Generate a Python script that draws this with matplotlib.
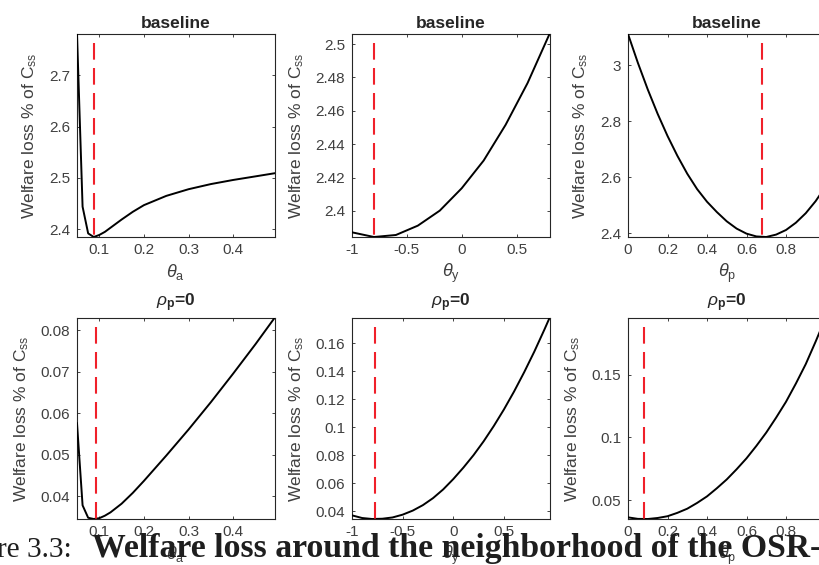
import numpy as np
import matplotlib
matplotlib.use("Agg")
import matplotlib.pyplot as plt

plt.rcParams.update({
    "font.family": ["Liberation Sans", "DejaVu Sans"],
    "mathtext.fontset": "custom",
    "mathtext.rm": "Liberation Sans",
    "mathtext.it": "Liberation Sans:italic",
    "mathtext.bf": "Liberation Sans:bold",
    "axes.unicode_minus": False,
})

# ---- welfare loss along each rule coefficient ----
theta_a = [0.05, 0.0625, 0.075, 0.0875, 0.1, 0.1125, 0.125, 0.15, 0.175,
           0.2, 0.25, 0.3, 0.35, 0.4, 0.45, 0.4925]
loss_a_base = [2.780, 2.444, 2.392, 2.385, 2.389, 2.395, 2.403, 2.419, 2.434,
               2.447, 2.465, 2.478, 2.488, 2.496, 2.503, 2.509]
loss_a_rho0 = [0.0576, 0.0378, 0.0348, 0.0345, 0.0347, 0.0353, 0.0361, 0.0382, 0.0408,
               0.0437, 0.0498, 0.0561, 0.0627, 0.0696, 0.0767, 0.0830]

theta_y = [-1.0, -0.8, -0.6, -0.4, -0.2, 0.0, 0.2, 0.4, 0.6, 0.8]
loss_y_base = [2.3872, 2.3844, 2.3856, 2.3912, 2.4002, 2.4136, 2.4302, 2.4516, 2.4766, 2.5060]

theta_y_rho0 = [-1.0, -0.9, -0.8, -0.7, -0.6, -0.5, -0.4, -0.3, -0.2, -0.1, 0.0,
                0.1, 0.2, 0.3, 0.4, 0.5, 0.6, 0.7, 0.8, 0.9, 0.95]
loss_y_rho0 = [0.0371, 0.0352, 0.0345, 0.0347, 0.0356, 0.0376, 0.0405, 0.0444, 0.0494,
               0.0556, 0.0630, 0.0712, 0.0801, 0.0900, 0.1009, 0.1127, 0.1255, 0.1393,
               0.1540, 0.1698, 0.1780]

theta_p = [0.0, 0.05, 0.1, 0.15, 0.2, 0.25, 0.3, 0.35, 0.4, 0.45, 0.5,
           0.55, 0.6, 0.65, 0.7, 0.75, 0.8, 0.85, 0.9, 0.95, 1.0]
loss_p_base = [3.111, 3.008, 2.913, 2.826, 2.747, 2.676, 2.612, 2.557, 2.512, 2.475, 2.442,
               2.416, 2.398, 2.388, 2.386, 2.3946, 2.411, 2.437, 2.471, 2.514, 2.566]
loss_p_rho0 = [0.0363, 0.0351, 0.0350, 0.0358, 0.0372, 0.0399, 0.0432, 0.0478, 0.0530, 0.0595,
               0.0665, 0.0746, 0.0833, 0.0932, 0.1038, 0.1157, 0.1283, 0.1428, 0.1583,
               0.1762, 0.1950]

# optimal coefficients (OSR) marked by the dashed lines
opt_base = [0.0875, -0.8, 0.68]
opt_rho0 = [0.0925, -0.77, 0.082]

# tick positions
xt_a = [0.1, 0.2, 0.3, 0.4]
xt_y = [-1, -0.5, 0, 0.5]
xt_p = [0, 0.2, 0.4, 0.6, 0.8, 1.0]
yt_a_base = [2.4, 2.5, 2.6, 2.7]
yt_y_base = [2.4, 2.42, 2.44, 2.46, 2.48, 2.5]
yt_p_base = [2.4, 2.6, 2.8, 3.0]
yt_a_rho0 = [0.04, 0.05, 0.06, 0.07, 0.08]
yt_y_rho0 = [0.04, 0.06, 0.08, 0.1, 0.12, 0.14, 0.16]
yt_p_rho0 = [0.05, 0.1, 0.15]

xlabels = [r"$\theta_{\rm a}$", r"$\theta_{\rm y}$", r"$\theta_{\rm p}$"]
row_titles = ["baseline", r"$\rho_{\mathbf{p}}$=0"]
ylabel = r"Welfare loss % of C$_{\rm ss}$"

panels = [
    [(theta_a, loss_a_base, opt_base[0], xt_a, yt_a_base),
     (theta_y, loss_y_base, opt_base[1], xt_y, yt_y_base),
     (theta_p, loss_p_base, opt_base[2], xt_p, yt_p_base)],
    [(theta_a, loss_a_rho0, opt_rho0[0], xt_a, yt_a_rho0),
     (theta_y_rho0, loss_y_rho0, opt_rho0[1], xt_y, yt_y_rho0),
     (theta_p, loss_p_rho0, opt_rho0[2], xt_p, yt_p_rho0)],
]

W, H = 819, 565
fig = plt.figure(figsize=(W / 100, H / 100), dpi=100)

lefts = [77, 352, 628]
rows = [(34, 237), (318, 519)]
axw = 197.5
ink = "#262626"
tick_col = "#404040"

for r, (top, bot) in enumerate(rows):
    for c in range(3):
        x, y, xo, xt, yt = panels[r][c]
        x = np.asarray(x)
        y = np.asarray(y)
        ax = fig.add_axes([lefts[c] / W, 1 - bot / H, axw / W, (bot - top) / H])
        ax.plot(x, y, color="black", lw=1.4, zorder=3)
        ax.plot([xo, xo], [0.956, 0.0], transform=ax.get_xaxis_transform(),
                color="#f0202a", lw=1.5, dashes=(8, 4), zorder=4)
        ax.set_xlim(x.min(), x.max())
        ax.set_ylim(y.min(), y.max())
        ax.set_xticks(xt)
        ax.set_yticks(yt)
        ax.set_xticklabels(["%g" % v for v in xt])
        ax.set_yticklabels(["%g" % v for v in yt])
        ax.tick_params(direction="in", length=2.5, width=0.6, top=True, right=True,
                       labelsize=11, color=ink, labelcolor=tick_col)
        ax.tick_params(axis="x", pad=4)
        ax.tick_params(axis="y", pad=5)
        for s in ax.spines.values():
            s.set_color(ink)
            s.set_linewidth(0.8)
        ax.set_ylabel(ylabel, fontsize=12.5, color=tick_col, labelpad=7)
        ax.set_xlabel(xlabels[c], fontsize=13, color=tick_col, labelpad=4)
        ax.set_title(row_titles[r], fontsize=12.5, fontweight="bold", color=ink,
                     pad=4 if r == 0 else 8.5)

# caption text running along the bottom edge
cap_y = (H - 556.7) / H
t1 = fig.text(-3 / W, cap_y, "re 3.3:", family="Liberation Serif", fontsize=18,
              ha="left", va="baseline", color="#1e1e1e", zorder=20)
t2 = fig.text(92 / W, cap_y, "Welfare loss around the neighborhood of the OSR-",
              family="Liberation Serif", fontweight="bold", fontsize=18,
              ha="left", va="baseline", color="#1e1e1e", zorder=20)
rend = fig.canvas.get_renderer()
for t, target in ((t1, 75.0), (t2, 728.0)):
    w = t.get_window_extent(rend).width
    t.set_fontsize(t.get_fontsize() * target / w)

fig.savefig("out.png", dpi=100)
